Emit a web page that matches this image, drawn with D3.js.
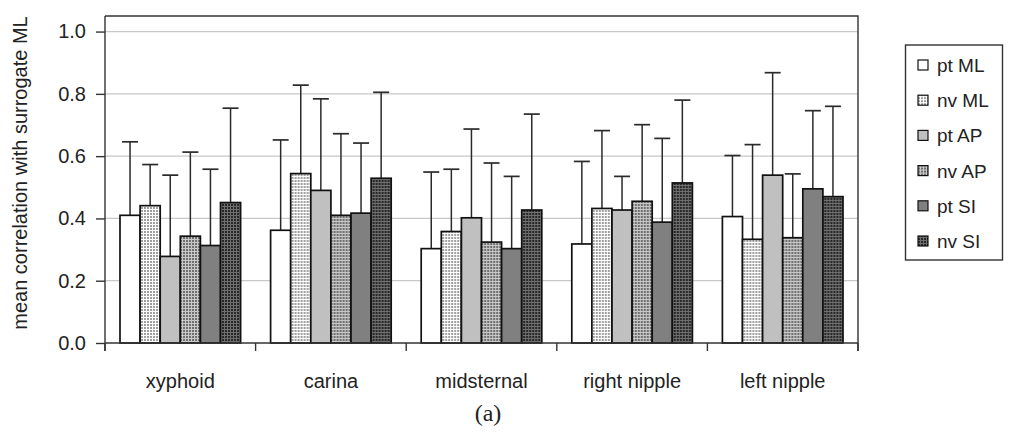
<!DOCTYPE html>
<html>
<head>
<meta charset="utf-8">
<script src="https://cdn.jsdelivr.net/npm/d3@7"></script>
<style>
  body { margin: 0; background: #fff; }
  text { font-family: "Liberation Sans", Arial, sans-serif; fill: #222; }
</style>
</head>
<body>
<div id="chart"></div>
<script>
var categories = ["xyphoid", "carina", "midsternal", "right nipple", "left nipple"];
var seriesNames = ["pt ML", "nv ML", "pt AP", "nv AP", "pt SI", "nv SI"];
// mean values, one array per series (in category order)
var ptML = [0.410, 0.362, 0.303, 0.318, 0.406];
var nvML = [0.441, 0.544, 0.358, 0.432, 0.333];
var ptAP = [0.278, 0.490, 0.402, 0.427, 0.539];
var nvAP = [0.343, 0.410, 0.324, 0.455, 0.338];
var ptSI = [0.313, 0.417, 0.303, 0.388, 0.495];
var nvSI = [0.451, 0.529, 0.427, 0.514, 0.470];
// top of error bar (mean + sd)
var ptMLerr = [0.646, 0.652, 0.549, 0.583, 0.602];
var nvMLerr = [0.573, 0.828, 0.558, 0.682, 0.637];
var ptAPerr = [0.539, 0.784, 0.687, 0.535, 0.868];
var nvAPerr = [0.613, 0.672, 0.578, 0.701, 0.543];
var ptSIerr = [0.558, 0.642, 0.535, 0.657, 0.746];
var nvSIerr = [0.754, 0.805, 0.735, 0.780, 0.760];
var yTicks = [0.0, 0.2, 0.4, 0.6, 0.8, 1.0];

var means = [ptML, nvML, ptAP, nvAP, ptSI, nvSI];
var errs = [ptMLerr, nvMLerr, ptAPerr, nvAPerr, ptSIerr, nvSIerr];
var fills = ["#fff", "url(#p-nvml)", "#c0c0c0", "url(#p-nvap)", "#808080", "url(#p-nvsi)"];

var W = 1013, H = 434;
var m = {left: 105, top: 16, right: 858, bottom: 343};

var svg = d3.select("#chart").append("svg").attr("width", W).attr("height", H);

// dotted patterns
var defs = svg.append("defs");
function pattern(id, bg, dot) {
  var p = defs.append("pattern").attr("id", id).attr("width", 3).attr("height", 3)
    .attr("patternUnits", "userSpaceOnUse");
  p.append("rect").attr("width", 3).attr("height", 3).attr("fill", bg);
  p.append("rect").attr("width", 2).attr("height", 2).attr("fill", dot);
}
pattern("p-nvml", "#fff", "#a0a0a0");
pattern("p-nvap", "#c8c8c8", "#707070");
pattern("p-nvsi", "#707070", "#282828");

var y = d3.scaleLinear().domain([0, 1.05]).range([m.bottom, m.top]);
var x0 = d3.scaleBand().domain(categories).range([m.left, m.right]);
var x1 = d3.scaleBand().domain(seriesNames).range([15, x0.bandwidth() - 15]);

// gridlines
svg.selectAll(".grid").data(yTicks.slice(1)).enter().append("line")
  .attr("x1", m.left).attr("x2", m.right)
  .attr("y1", function(d) { return y(d); }).attr("y2", function(d) { return y(d); })
  .attr("stroke", "#c8c8c8").attr("stroke-width", 1.2);

// frame top / right
svg.append("path")
  .attr("d", "M" + m.left + "," + m.top + "H" + m.right + "V" + (m.bottom + 8))
  .attr("fill", "none").attr("stroke", "#333").attr("stroke-width", 1.4);

// bars and error bars
var groups = svg.selectAll(".cat").data(categories).enter().append("g")
  .attr("transform", function(d) { return "translate(" + x0(d) + ",0)"; });

groups.each(function(cat, ci) {
  var g = d3.select(this);
  seriesNames.forEach(function(s, si) {
    var bx = x1(s), bw = x1.bandwidth();
    var cx = bx + bw / 2;
    g.append("line")
      .attr("x1", cx).attr("x2", cx)
      .attr("y1", y(means[si][ci])).attr("y2", y(errs[si][ci]))
      .attr("stroke", "#2a2a2a").attr("stroke-width", 1.5);
    g.append("line")
      .attr("x1", cx - 8).attr("x2", cx + 8)
      .attr("y1", y(errs[si][ci])).attr("y2", y(errs[si][ci]))
      .attr("stroke", "#2a2a2a").attr("stroke-width", 1.7);
    g.append("rect")
      .attr("x", bx).attr("width", bw)
      .attr("y", y(means[si][ci])).attr("height", y(0) - y(means[si][ci]))
      .attr("fill", fills[si]).attr("stroke", "#111").attr("stroke-width", 1.7);
  });
});

// y axis
var yAxis = svg.append("g").attr("transform", "translate(" + m.left + ",0)")
  .call(d3.axisLeft(y).tickValues(yTicks).tickFormat(d3.format(".1f")).tickSize(9).tickPadding(10));
yAxis.select(".domain").attr("stroke", "#333").attr("stroke-width", 1.4)
  .attr("d", "M0," + m.top + "V" + (m.bottom + 8));
yAxis.selectAll(".tick line").attr("stroke", "#333").attr("stroke-width", 1.4);
yAxis.selectAll(".tick text").style("font-size", "20px").attr("fill", "#222");

// x axis
var xAxis = svg.append("g").attr("transform", "translate(0," + m.bottom + ")");
xAxis.append("line").attr("x1", m.left).attr("x2", m.right)
  .attr("stroke", "#333").attr("stroke-width", 1.4);
var bounds = categories.map(function(c) { return x0(c); }).concat([m.right]);
xAxis.selectAll(".xt").data(bounds).enter().append("line")
  .attr("x1", function(d) { return d; }).attr("x2", function(d) { return d; })
  .attr("y1", 0).attr("y2", 8).attr("stroke", "#333").attr("stroke-width", 1.4);
xAxis.selectAll(".xl").data(categories).enter().append("text")
  .attr("x", function(d) { return x0(d) + x0.bandwidth() / 2; })
  .attr("y", 45).attr("text-anchor", "middle").style("font-size", "20px")
  .text(function(d) { return d; });

// y title
svg.append("text")
  .attr("transform", "translate(27,173) rotate(-90)")
  .attr("text-anchor", "middle").style("font-size", "20px")
  .text("mean correlation with surrogate ML");

// caption
svg.append("text").attr("x", 488).attr("y", 421).attr("text-anchor", "middle")
  .style("font-family", "'Liberation Serif', 'Times New Roman', serif").style("font-size", "24px")
  .attr("fill", "#000").text("(a)");

// legend
var lg = svg.append("g");
lg.append("rect").attr("x", 905.5).attr("y", 45).attr("width", 97).attr("height", 215)
  .attr("fill", "#fff").attr("stroke", "#333").attr("stroke-width", 1.4);
var li = lg.selectAll(".li").data(seriesNames).enter().append("g")
  .attr("transform", function(d, i) { return "translate(918," + (65 + i * 35.2) + ")"; });
li.append("rect").attr("x", 0).attr("y", -5).attr("width", 10).attr("height", 10)
  .attr("fill", function(d, i) { return fills[i]; }).attr("stroke", "#111").attr("stroke-width", 1.2);
li.append("text").attr("x", 19).attr("y", 7).style("font-size", "19px")
  .text(function(d) { return d; });
</script>
</body>
</html>
